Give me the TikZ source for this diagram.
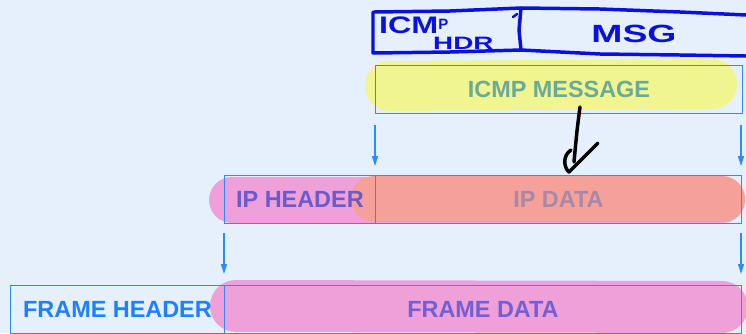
\documentclass[tikz,border=0pt]{standalone}
\usepackage{fontspec}
\setmainfont{Liberation Sans}
\usetikzlibrary{arrows.meta}
\definecolor{bg}{HTML}{E6F0FC}
\definecolor{bx}{HTML}{2A8CFF}
\definecolor{hlY}{HTML}{F0F590}
\definecolor{hlP}{HTML}{F0A0D8}
\definecolor{hlS}{HTML}{F5A098}
\definecolor{ink}{HTML}{0A10E0}
\definecolor{tIcmp}{HTML}{6AAA98}
\definecolor{tIph}{HTML}{6A5AD0}
\definecolor{tIpd}{HTML}{A888A8}
\definecolor{tFh}{HTML}{1E80FF}
\definecolor{tFd}{HTML}{7060D8}
\tikzset{
  fld/.style={draw=bx, line width=0.9pt, minimum height=48bp, inner sep=0pt, anchor=north west, font=\bfseries\fontsize{23.5}{25}\selectfont},
  dn/.style={draw=bx, line width=1.1pt, -{Triangle[length=10bp,width=6bp]}},
  hl/.style={line width=46bp, line cap=round},
  pen/.style={draw=ink, line width=3.5pt, line cap=round, line join=round},
  hand/.style={text=ink, inner sep=0pt, font=\bfseries\fontsize{24}{24}\selectfont},
}
\begin{document}
\begin{tikzpicture}[x=1bp,y=-1bp]
\fill[bg] (0,0) rectangle (746,333);
\useasboundingbox (0,0) rectangle (746,333);
% highlights
\draw[hl, hlY, line width=50bp] (390,86) -- (712,84);
\draw[hl, hlP] (232,200) -- (722,200);
\draw[hl, hlS] (374,199) -- (722,199);
\draw[hl, hlP, line width=52bp] (236,306) -- (722,307);
% boxes
\node[fld, minimum width=367bp, text=tIcmp] (icmp) at (375,65) {ICMP MESSAGE};
\node[fld, minimum width=151bp, text=tIph] (iph) at (224,175) {IP HEADER};
\node[fld, minimum width=366bp, text=tIpd] (ipd) at (375,175) {IP DATA};
\node[fld, minimum width=214bp, text=tFh] (fh) at (10,285) {FRAME HEADER};
\node[fld, minimum width=517bp, text=tFd] (fd) at (224,285) {FRAME DATA};
% arrows
\coordinate (a1) at (375,125); \coordinate (a2) at (741,125);
\coordinate (a3) at (224,233); \coordinate (a4) at (741,233);
\draw[dn] (a1) -- (375,166);
\draw[dn] (a2) -- (741,166);
\draw[dn] (a3) -- (224,274);
\draw[dn] (a4) -- (741,274);
% handwriting
\draw[pen] (374,12) -- (450,11) -- (521,8) -- (600,9) -- (680,12) -- (746,15);
\draw[pen] (373,12) -- (373,53) -- (450,52) -- (521,50) -- (600,54) -- (680,55) -- (746,56);
\draw[pen] (521,8) -- (519,30) -- (521,50);
\draw[pen, line width=2.5pt] (513,17) -- (517,14);
\node[hand, anchor=west] (hdr1) at (379,25) {\scalebox{1.35}[1]{ICM}\raisebox{4bp}{\fontsize{15}{15}\selectfont P}};
\node[hand, anchor=west, font=\bfseries\fontsize{18}{18}\selectfont] (hdr2) at (433,43) {\scalebox{1.55}[1]{HDR}};
\node[hand, font=\bfseries\fontsize{25}{25}\selectfont] (msg) at (634,34) {\scalebox{1.5}[1]{MSG}};
% black arrow
\draw[black, line width=3.5pt, line cap=round, line join=round] (580,107) .. controls (577,130) .. (574,162);
\draw[black, line width=3.5pt, line cap=round, line join=round] (571,150) .. controls (562,156) and (564,168) .. (569,172) -- (598,143);
\end{tikzpicture}
\end{document}
